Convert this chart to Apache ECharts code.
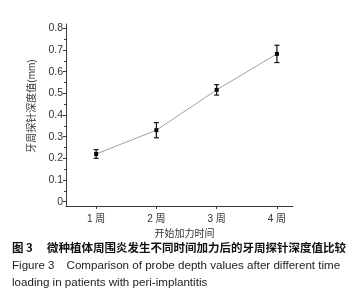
<!DOCTYPE html>
<html><head><meta charset="utf-8">
<script src="https://cdn.jsdelivr.net/npm/echarts@6/dist/echarts.min.js"></script>
<style>html,body{margin:0;padding:0;background:#fff}#c{width:362px;height:300px}</style>
</head><body><div id="c"></div>
<script>
var categories = ['1 周', '2 周', '3 周', '4 周'];
var xPositions = [1, 2, 3, 4];
var meanValues = [0.22, 0.33, 0.516, 0.682];
var errValues = [0.02, 0.035, 0.024, 0.04];
var yMajorTicks = [0, 0.1, 0.2, 0.3, 0.4, 0.5, 0.6, 0.7, 0.8];
var yMinorTicks = [0.05, 0.15, 0.25, 0.35, 0.45, 0.55, 0.65, 0.75];
var yTitle = '牙周探针深度值(mm)';
var xTitle = '开始加力时间';
var captionCN = '图 3\u3000 微种植体周围炎发生不同时间加力后的牙周探针深度值比较';
var captionEN1 = 'Figure 3\u3000Comparison of probe depth values after different time';
var captionEN2 = 'loading in patients with peri-implantitis';

var lineData = xPositions.map(function (x, i) { return [x, meanValues[i]]; });
var errData = xPositions.map(function (x, i) { return [x, meanValues[i] - errValues[i], meanValues[i] + errValues[i]]; });

var font = '"Liberation Sans", Arial, "Noto Sans CJK SC", sans-serif';
var axisColor = '#3a3a3a';
var chart = echarts.init(document.getElementById('c'), null, {renderer: 'canvas'});
chart.setOption({
  animation: false,
  grid: {left: 66, right: 69, top: 24, bottom: 94},
  xAxis: {
    type: 'value', min: 0.5, max: 4.267,
    splitLine: {show: false},
    axisLine: {show: true, onZero: false, lineStyle: {color: axisColor, width: 1}},
    axisTick: {show: true, length: 3, customValues: xPositions, lineStyle: {color: axisColor}},
    axisLabel: {customValues: xPositions, margin: 8, fontSize: 10, color: '#333', fontFamily: font,
      formatter: function (v) { return categories[Math.round(v) - 1] || ''; }},
    name: xTitle, nameLocation: 'middle', nameGap: 23,
    nameTextStyle: {fontSize: 10, color: '#333', fontFamily: font, padding: [0, 0, 0, 10]}
  },
  yAxis: [{
    type: 'value', min: -0.02, max: 0.82,
    splitLine: {show: false},
    axisLine: {show: true, onZero: false, lineStyle: {color: axisColor, width: 1}},
    axisTick: {show: true, length: 3, customValues: yMajorTicks, lineStyle: {color: axisColor}},
    axisLabel: {customValues: yMajorTicks, margin: 3, fontSize: 10.5, color: '#333', fontFamily: font,
      formatter: function (v) { return v === 0 ? '0' : v.toFixed(1); }},
    name: yTitle, nameLocation: 'middle', nameGap: 28,
    nameTextStyle: {fontSize: 10, color: '#333', fontFamily: font, padding: [0, 0, 0, 18]}
  }, {
    type: 'value', min: -0.02, max: 0.82, position: 'left',
    splitLine: {show: false},
    axisLine: {show: false},
    axisTick: {show: true, length: 2, customValues: yMinorTicks, lineStyle: {color: axisColor}},
    axisLabel: {show: false}
  }],
  series: [{
    type: 'line', data: lineData, yAxisIndex: 0,
    lineStyle: {color: '#a0a0a0', width: 1},
    symbol: 'rect', symbolSize: 4, itemStyle: {color: '#000'}, z: 3
  }, {
    type: 'custom', data: errData, yAxisIndex: 0, z: 4,
    renderItem: function (params, api) {
      var x = api.value(0);
      var lo = api.coord([x, api.value(1)]);
      var hi = api.coord([x, api.value(2)]);
      var hw = 2.5;
      var st = {stroke: '#111', lineWidth: 1.2};
      return {type: 'group', children: [
        {type: 'line', shape: {x1: lo[0], y1: lo[1], x2: hi[0], y2: hi[1]}, style: st},
        {type: 'line', shape: {x1: lo[0] - hw, y1: lo[1], x2: lo[0] + hw, y2: lo[1]}, style: st},
        {type: 'line', shape: {x1: hi[0] - hw, y1: hi[1], x2: hi[0] + hw, y2: hi[1]}, style: st}
      ]};
    }
  }],
  graphic: [
    {type: 'text', left: 12, top: 242, style: {text: captionCN, font: 'bold 11.5px "Noto Sans CJK SC", sans-serif', fill: '#111'}},
    {type: 'text', left: 12, top: 260, style: {text: captionEN1, font: '11.6px "Liberation Sans", Arial, sans-serif', fill: '#222'}},
    {type: 'text', left: 12, top: 277, style: {text: captionEN2, font: '11.6px "Liberation Sans", Arial, sans-serif', fill: '#222'}}
  ]
});
</script>
</body></html>
